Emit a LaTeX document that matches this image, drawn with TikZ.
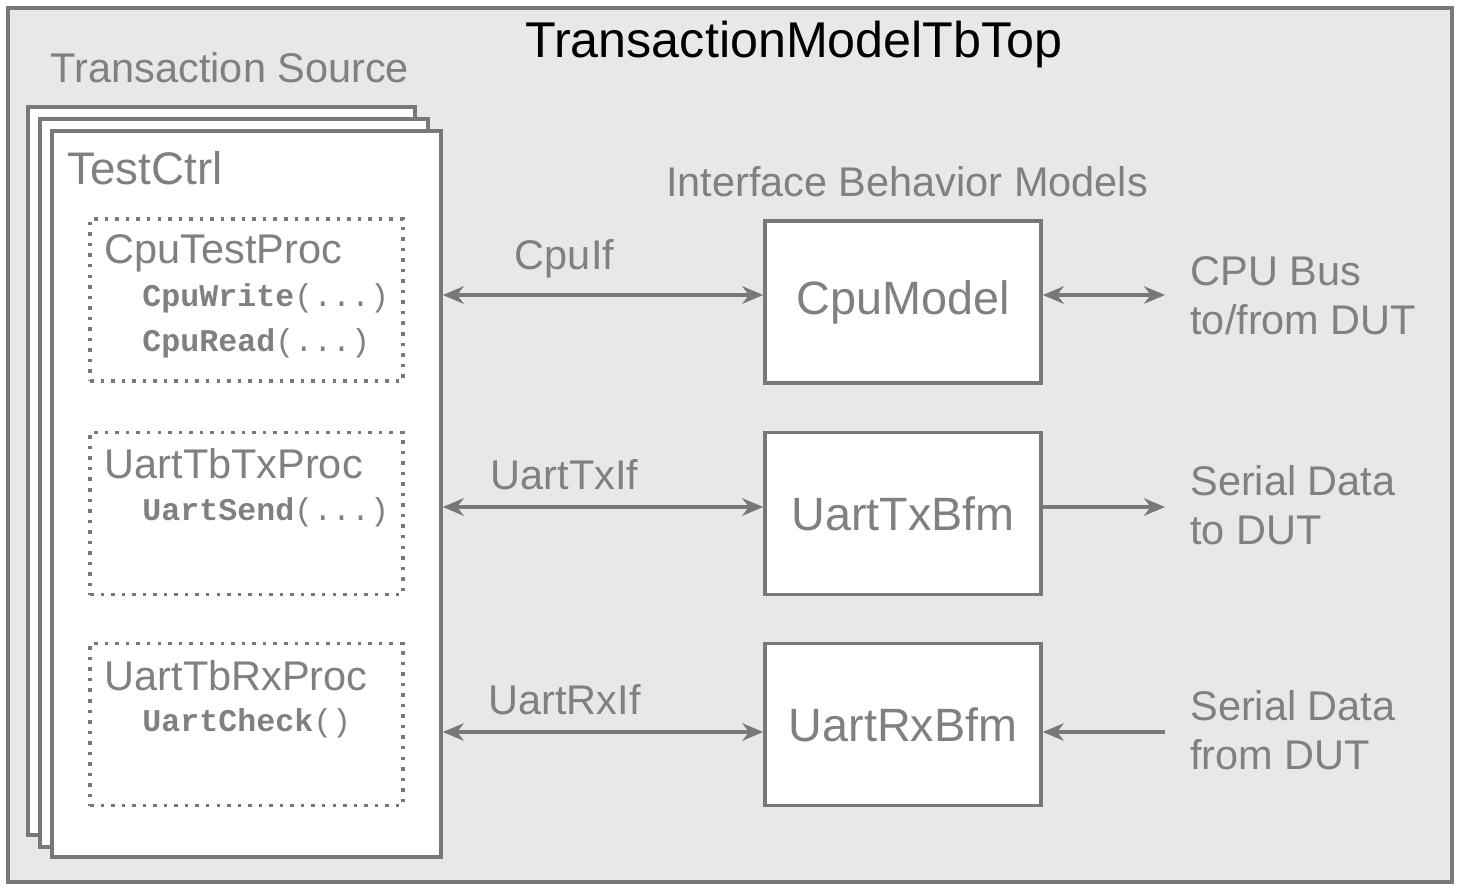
\documentclass[tikz,border=0pt]{standalone}
\usepackage{fontspec}
\setmainfont{Liberation Sans}
\setmonofont{Liberation Mono}
\usetikzlibrary{positioning,arrows.meta}
\definecolor{txtgray}{RGB}{128,128,128}
\definecolor{linegray}{RGB}{120,120,120}
\tikzset{
  box/.style={draw=linegray,line width=1pt,fill=white,minimum width=2.76cm,minimum height=1.62cm,font=\fontsize{13.3}{15}\selectfont,text=txtgray},
  proc/.style={draw=linegray,line width=1pt,dotted,minimum width=3.13cm,minimum height=1.62cm},
  link/.style={draw=linegray,line width=0.9pt,{Stealth[length=6pt,width=5pt]}-{Stealth[length=6pt,width=5pt]}},
  feed/.style={draw=linegray,line width=0.9pt,-{Stealth[length=6pt,width=5pt]}},
  lbl/.style={text=txtgray,font=\fontsize{11.8}{14}\selectfont},
  code/.style={text=txtgray,font=\ttfamily\bfseries\fontsize{9}{11}\selectfont,anchor=west},
}
\begin{document}
\begin{tikzpicture}
  \useasboundingbox (0,0) rectangle (14.58,8.88);
  % outer frame
  \draw[draw=linegray,line width=1pt,fill=black!9] (0.08,0.06) rectangle (14.52,8.80);
  \node (title) at (7.94,8.43) {\fontsize{14.3}{16}\selectfont TransactionModelTbTop};
  \node[lbl] (srclbl) at (2.30,8.20) {Transaction Source};
  % stacked TestCtrl sheets
  \draw[linegray,line width=1pt,fill=white] (0.28,0.53) rectangle (4.15,7.81);
  \draw[linegray,line width=1pt,fill=white] (0.40,0.41) rectangle (4.28,7.69);
  \node[draw=linegray,line width=1pt,fill=white,minimum width=3.89cm,minimum height=7.26cm] (ctrl) at (2.465,3.94) {};
  \node[text=txtgray,font=\fontsize{13}{15}\selectfont] (ctrllbl) at (1.45,7.20) {TestCtrl};
  % processes
  \node[proc] (cpuproc) at (2.465,5.88) {};
  \node[proc] (txproc) at (2.465,3.745) {};
  \node[proc] (rxproc) at (2.465,1.635) {};
  \node[lbl,anchor=north west,inner sep=0pt] at (1.04,6.54) {CpuTestProc};
  \node[code] at (1.30,5.90) {CpuWrite\mdseries(...)};
  \node[code] at (1.30,5.45) {CpuRead\mdseries(...)};
  \node[lbl,anchor=north west,inner sep=0pt] at (1.04,4.40) {UartTbTxProc};
  \node[code] at (1.30,3.76) {UartSend\mdseries(...)};
  \node[lbl,anchor=north west,inner sep=0pt] at (1.04,2.28) {UartTbRxProc};
  \node[code] at (1.30,1.65) {UartCheck\mdseries()};
  % models
  \node[lbl] (ifbm) at (9.07,7.06) {Interface Behavior Models};
  \node[box] (cpu) at (9.03,5.86) {CpuModel};
  \node[box] (tx) at (9.03,3.745) {UartTxBfm};
  \node[box] (rx) at (9.03,1.635) {UartRxBfm};
  % free ends
  \coordinate (cpuR) at (11.65,5.93);
  \coordinate (txR) at (11.65,3.81);
  \coordinate (rxR) at (11.65,1.56);
  \draw[link] (ctrl.east |- cpuR) -- node[lbl,above=1pt,pos=0.38] {CpuIf} (cpu.west |- cpuR);
  \draw[link] (ctrl.east |- txR) -- node[lbl,above=1pt,pos=0.38] {UartTxIf} (tx.west |- txR);
  \draw[link] (ctrl.east |- rxR) -- node[lbl,above=1pt,pos=0.38] {UartRxIf} (rx.west |- rxR);
  \draw[link] (cpu.east |- cpuR) -- (cpuR);
  \draw[feed] (tx.east |- txR) -- (txR);
  \draw[feed] (rxR) -- (rx.east |- rxR);
  \node[lbl,anchor=west,align=left] (busl) at (11.78,5.92) {CPU Bus\\to/from DUT};
  \node[lbl,anchor=west,align=left] (txl) at (11.78,3.83) {Serial Data\\to DUT};
  \node[lbl,anchor=west,align=left] (rxl) at (11.78,1.58) {Serial Data\\from DUT};
\end{tikzpicture}
\end{document}
